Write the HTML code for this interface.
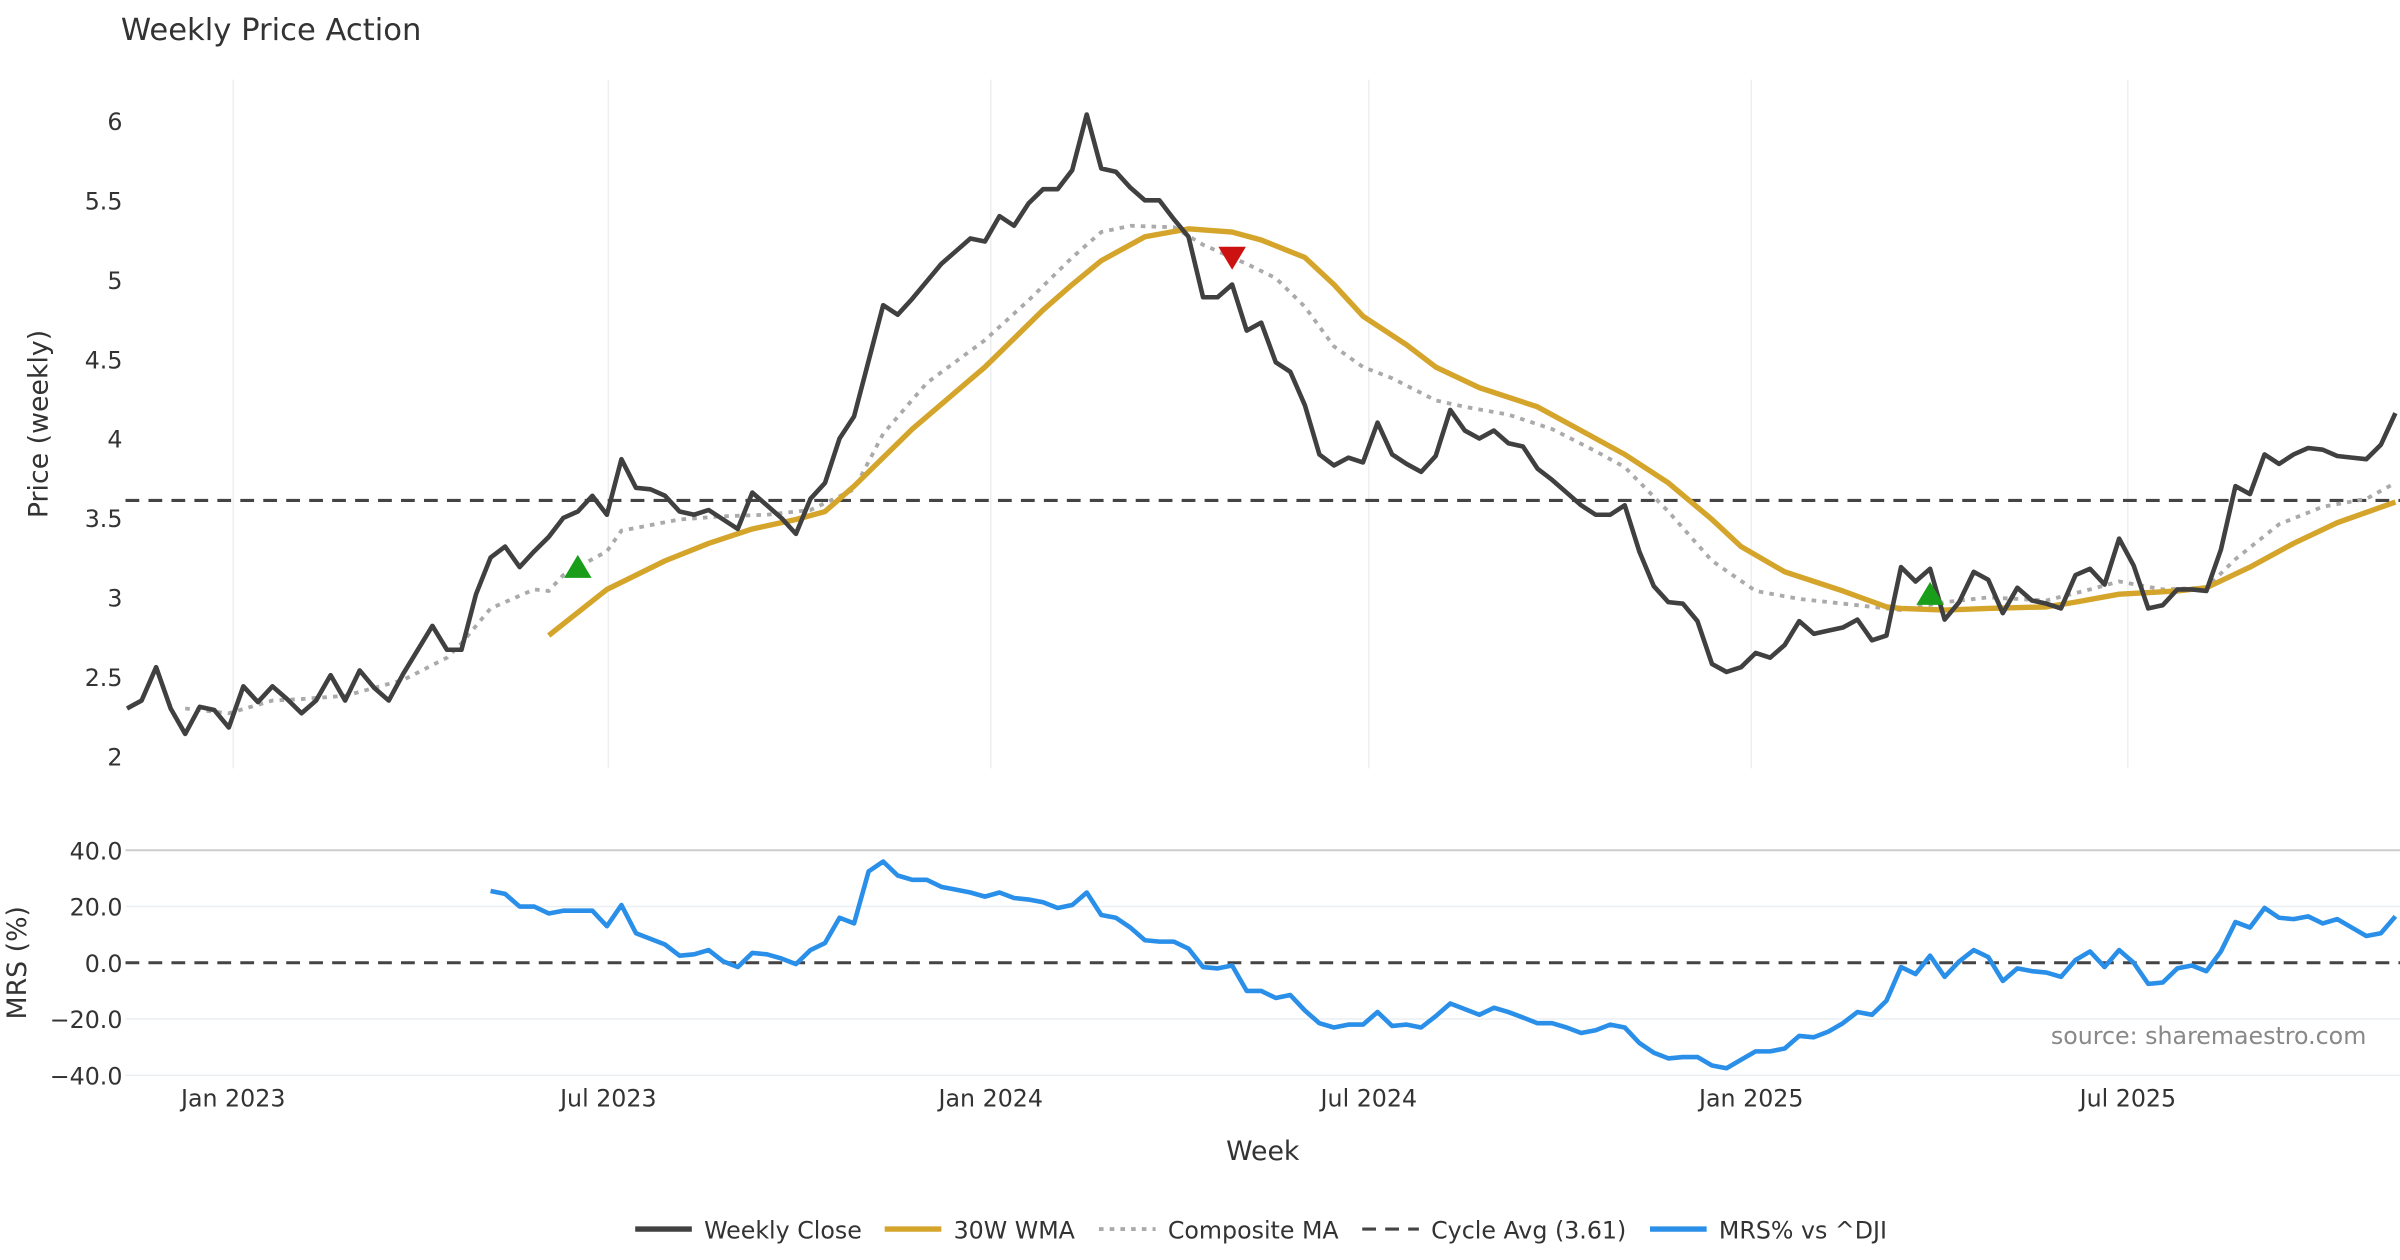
<!DOCTYPE html>
<html><head><meta charset="utf-8"><style>
html,body{margin:0;padding:0;background:#fff;}
svg{display:block;font-family:"DejaVu Sans","Liberation Sans",sans-serif;}
</style></head><body>
<svg id="chart" width="2400" height="1260" viewBox="0 0 1568 823.2" xmlns="http://www.w3.org/2000/svg">
<text x="79" y="26" font-size="20" fill="#333">Weekly Price Action</text>
<g id="grid"></g>
<g id="series"></g>
<g id="axes"></g>
<text x="825" y="758" font-size="17.5" fill="#333" text-anchor="middle">Week</text>
<text transform="translate(31,277) rotate(-90)" font-size="17.5" fill="#333" text-anchor="middle">Price (weekly)</text>
<text transform="translate(17,629) rotate(-90)" font-size="17.5" fill="#333" text-anchor="middle">MRS (%)</text>
<text x="1546" y="682" font-size="15.5" fill="#888" text-anchor="end">source: sharemaestro.com</text>
<g id="legend" font-size="15.5" fill="#333">
  <g><line x1="415" y1="803" x2="452" y2="803" stroke="#404040" stroke-width="3.5"/><text x="460" y="809">Weekly Close</text></g>
  <g><line x1="578" y1="803" x2="615" y2="803" stroke="#D4A52A" stroke-width="3.5"/><text x="623" y="809">30W WMA</text></g>
  <g><line x1="718" y1="803" x2="755" y2="803" stroke="#aaa" stroke-width="2.5" stroke-dasharray="3,4"/><text x="763" y="809">Composite MA</text></g>
  <g><line x1="890" y1="803" x2="927" y2="803" stroke="#444" stroke-width="2" stroke-dasharray="9,6"/><text x="935" y="809">Cycle Avg (3.61)</text></g>
  <g><line x1="1078" y1="803" x2="1115" y2="803" stroke="#2A8FE8" stroke-width="3.5"/><text x="1123" y="809">MRS% vs ^DJI</text></g>
</g>
</svg>
<script>
const closeVals=[2.30,2.35,2.56,2.30,2.14,2.31,2.29,2.18,2.44,2.34,2.44,2.36,2.27,2.35,2.51,2.35,2.54,2.43,2.35,2.52,2.67,2.82,2.67,2.67,3.02,3.25,3.32,3.19,3.29,3.38,3.50,3.54,3.64,3.52,3.87,3.69,3.68,3.64,3.54,3.52,3.55,3.49,3.43,3.66,3.58,3.50,3.40,3.62,3.72,4.00,4.14,4.49,4.84,4.78,4.88,4.99,5.10,5.18,5.26,5.24,5.40,5.34,5.48,5.57,5.57,5.69,6.04,5.70,5.68,5.58,5.50,5.50,5.38,5.27,4.89,4.89,4.97,4.68,4.73,4.48,4.42,4.21,3.90,3.83,3.88,3.85,4.10,3.90,3.84,3.79,3.89,4.18,4.05,4.00,4.05,3.97,3.95,3.81,3.74,3.66,3.58,3.52,3.52,3.58,3.29,3.07,2.97,2.96,2.85,2.58,2.53,2.56,2.65,2.62,2.70,2.85,2.77,2.79,2.81,2.86,2.73,2.76,3.19,3.10,3.18,2.86,2.97,3.16,3.11,2.90,3.06,2.98,2.96,2.93,3.14,3.18,3.08,3.37,3.20,2.93,2.95,3.05,3.05,3.04,3.30,3.70,3.65,3.90,3.84,3.90,3.94,3.93,3.89,3.88,3.87,3.96,4.16];
const wmaWeeks=[29,33,37,40,43,46,48,50,54,59,63,65,67,70,73,76,78,81,83,85,88,90,93,97,100,103,106,109,111,114,118,121,122,125,128,132,134,137,141,143,146,149,152,156];
const wmaVals=[2.76,3.05,3.23,3.34,3.43,3.49,3.54,3.70,4.06,4.45,4.81,4.97,5.12,5.27,5.32,5.30,5.25,5.14,4.97,4.77,4.59,4.45,4.32,4.20,4.05,3.90,3.72,3.49,3.32,3.16,3.04,2.94,2.93,2.92,2.93,2.94,2.97,3.02,3.04,3.06,3.19,3.34,3.47,3.60];
const compWeeks=[4,7,10,12,15,19,22,23,25,28,29,30,33,34,38,41,44,47,50,52,55,59,62,65,67,69,72,74,77,79,81,83,85,87,90,92,95,98,101,103,106,109,112,115,119,122,125,128,132,135,137,140,143,145,148,151,154,156];
const compVals=[2.30,2.27,2.35,2.36,2.38,2.48,2.62,2.71,2.93,3.05,3.04,3.14,3.29,3.42,3.49,3.51,3.52,3.55,3.68,4.03,4.35,4.62,4.87,5.14,5.30,5.34,5.33,5.22,5.10,5.01,4.83,4.58,4.45,4.38,4.24,4.20,4.15,4.06,3.92,3.82,3.54,3.23,3.04,2.99,2.95,2.92,2.97,3.00,2.98,3.05,3.10,3.05,3.06,3.24,3.46,3.57,3.62,3.72];
const mrsStart=25;
const mrsVals=[25.5,24.5,20,20,17.5,18.5,18.5,18.5,13,20.5,10.5,8.5,6.5,2.5,3,4.5,0.5,-1.5,3.5,3,1.5,-0.5,4.5,7,16,14,32.5,36,31,29.5,29.5,27,26,25,23.5,25,23,22.5,21.5,19.5,20.5,25,17,16,12.5,8,7.5,7.5,5,-1.5,-2,-1,-10,-10,-12.5,-11.5,-17,-21.5,-23,-22,-22,-17.5,-22.5,-22,-23,-19,-14.5,-16.5,-18.5,-16,-17.5,-19.5,-21.5,-21.5,-23,-25,-24,-22,-23,-28.5,-32,-34,-33.5,-33.5,-36.5,-37.5,-34.5,-31.5,-31.5,-30.5,-26,-26.5,-24.5,-21.5,-17.5,-18.5,-13.5,-1.5,-4,2.5,-5,0.5,4.5,2,-6.5,-2,-3,-3.5,-5,1,4,-1.5,4.5,0,-7.5,-7,-2,-1,-3,4,14.5,12.5,19.5,16,15.5,16.5,14,15.5,12.5,9.5,10.5,16.5];
const cycleAvg=3.61;
const buyWeeks=[31,124], buyVals=[3.19,3.02];
const sellWeeks=[76], sellVals=[5.14];
const priceTicks=[2,2.5,3,3.5,4,4.5,5,5.5,6];
const priceTickLabels=["2","2.5","3","3.5","4","4.5","5","5.5","6"];
const mrsTicks=[40,20,0,-20,-40];
const mrsTickLabels=["40.0","20.0","0.0","\u221220.0","\u221240.0"];
const dateTickWeeks=[7.3,33.1,59.4,85.4,111.7,137.6];
const dateTickLabels=["Jan 2023","Jul 2023","Jan 2024","Jul 2024","Jan 2025","Jul 2025"];

const NS="http://www.w3.org/2000/svg";
const X=w=>83+w*9.5;
const YP=v=>79+(6-v)*103.75;
const YM=v=>629-v*1.8375;
function mk(tag,attrs,parent){const e=document.createElementNS(NS,tag);for(const k in attrs)e.setAttribute(k,attrs[k]);parent.appendChild(e);return e;}
const grid=document.getElementById('grid'),ser=document.getElementById('series'),ax=document.getElementById('axes');

dateTickWeeks.forEach((w,i)=>{
  const g=mk('line',{x1:X(w),x2:X(w),y1:52,y2:502,stroke:'#eceff2','stroke-width':1},grid);
  
  
  const t=mk('text',{x:X(w),y:723,'font-size':15.5,fill:'#333','text-anchor':'middle'},ax);
  t.textContent=dateTickLabels[i];
  
  
});
priceTicks.forEach((v,i)=>{
  const t=mk('text',{x:80,y:YP(v)+6,'font-size':15.5,fill:'#333','text-anchor':'end'},ax);
  t.textContent=priceTickLabels[i];
  
  
});
mrsTicks.forEach((v,i)=>{
  if(v!==0){const g=mk('line',{x1:82,x2:1568,y1:YM(v),y2:YM(v),stroke:v===40?'#ccc':'#eceff2','stroke-width':v===40?1.3:1},grid);
  
  }
  const t=mk('text',{x:80,y:YM(v)+6,'font-size':15.5,fill:'#333','text-anchor':'end'},ax);
  t.textContent=mrsTickLabels[i];
  
  
});
function pts(ws,vs,yf){return vs.map((v,i)=>X(ws[i]).toFixed(1)+','+yf(v).toFixed(1)).join(' ');}
const cyc=mk('line',{x1:82,x2:1568,y1:YP(cycleAvg),y2:YP(cycleAvg),stroke:'#444','stroke-width':2,'stroke-dasharray':'9,6'},ser);


const comp=mk('polyline',{points:pts(compWeeks,compVals,YP),fill:'none',stroke:'#aaa','stroke-width':2.5,'stroke-dasharray':'3,4'},ser);


const wma=mk('polyline',{points:pts(wmaWeeks,wmaVals,YP),fill:'none',stroke:'#D4A52A','stroke-width':3.5,'stroke-linejoin':'round'},ser);


const cl=mk('polyline',{points:pts(closeVals.map((_,i)=>i),closeVals,YP),fill:'none',stroke:'#404040','stroke-width':3,'stroke-linejoin':'round'},ser);


buyWeeks.forEach((w,i)=>{const x=X(w),y=YP(buyVals[i]);
  const m=mk('polygon',{points:`${x-9},${y+7} ${x+9},${y+7} ${x},${y-8}`,fill:'#1a9e1a'},ser);
  
  });
sellWeeks.forEach((w,i)=>{const x=X(w),y=YP(sellVals[i]);
  const m=mk('polygon',{points:`${x-9},${y-7} ${x+9},${y-7} ${x},${y+8}`,fill:'#cc1111'},ser);
  
  });
const z=mk('line',{x1:82,x2:1568,y1:YM(0),y2:YM(0),stroke:'#444','stroke-width':2,'stroke-dasharray':'9,6'},ser);


const mrs=mk('polyline',{points:pts(mrsVals.map((_,i)=>mrsStart+i),mrsVals,YM),fill:'none',stroke:'#2A8FE8','stroke-width':3,'stroke-linejoin':'round'},ser);


</script>
</body></html>
